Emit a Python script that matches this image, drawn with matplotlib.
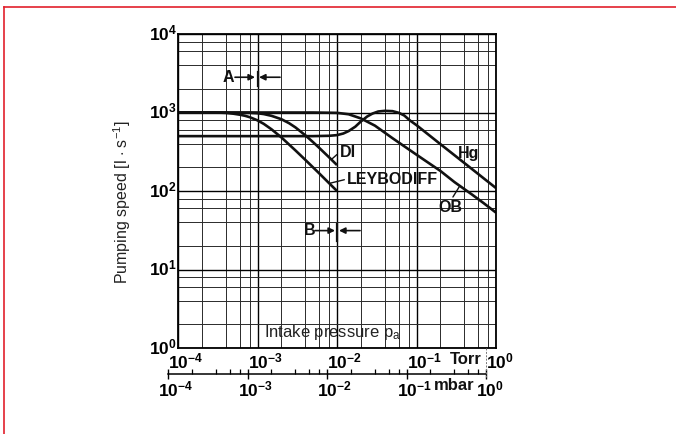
import matplotlib
matplotlib.use('Agg')
import matplotlib.pyplot as plt
from matplotlib.ticker import LogLocator, NullFormatter
from matplotlib.transforms import ScaledTranslation, blended_transform_factory
from matplotlib.lines import Line2D

plt.rcParams['font.family'] = ['Liberation Sans', 'DejaVu Sans']
plt.rcParams['mathtext.fontset'] = 'custom'
plt.rcParams['mathtext.rm'] = 'Liberation Sans'
plt.rcParams['mathtext.it'] = 'Liberation Sans:italic'
plt.rcParams['mathtext.bf'] = 'Liberation Sans:bold'
plt.rcParams['mathtext.sf'] = 'Liberation Sans'

# ---------------- data (Torr, l/s) ----------------
leybodiff_p = [1e-4, 3e-4, 4e-4, 5e-4, 6e-4, 7e-4, 8e-4, 1e-3, 1.2e-3, 1.5e-3,
               2e-3, 3e-3, 4e-3, 6e-3, 8e-3, 1e-2]
leybodiff_s = [1000, 1000, 990, 965, 937, 907, 871, 794, 716, 611,
               481, 329, 249, 167, 125, 100]

di_p = [1e-4, 8e-4, 1e-3, 1.2e-3, 1.5e-3, 2e-3, 2.5e-3, 3e-3, 4e-3, 5e-3,
        6e-3, 8e-3, 1e-2]
di_s = [1000, 990, 978, 955, 907, 821, 730, 646, 512, 419,
        353, 267, 214]

ob_p = [1e-4, 5e-3, 1e-2, 1.4e-2, 2e-2, 3e-2, 5e-2, 0.1, 0.2, 0.3, 0.5, 0.7, 1.0]
ob_s = [1000, 1000, 990, 950, 840, 680, 470, 290, 180, 130, 90, 70, 53]

hg_p = [1e-4, 5e-3, 8e-3, 1e-2, 1.2e-2, 1.4e-2, 1.7e-2, 2e-2, 2.4e-2, 2.8e-2,
        3.3e-2, 4e-2, 5e-2, 6e-2, 7e-2, 8.3e-2, 0.1, 0.2, 0.3, 0.5, 0.7, 1.0]
hg_s = [500, 500, 505, 515, 540, 580, 660, 770, 890, 970,
        1030, 1050, 1040, 990, 917, 790, 690, 395, 286, 190, 145, 109]

torr_ticks = [1e-4, 1e-3, 1e-2, 1e-1, 1e0]
torr_ticklabels = [r'$\mathbf{10^{-4}}$', r'$\mathbf{10^{-3}}$', r'$\mathbf{10^{-2}}$',
                   r'$\mathbf{10^{-1}}$', r'$\mathbf{10^{0}}$']
mbar_ticks = [1e-4, 1e-3, 1e-2, 1e-1, 1e0]
mbar_ticklabels = [r'$\mathbf{10^{-4}}$', r'$\mathbf{10^{-3}}$', r'$\mathbf{10^{-2}}$',
                   r'$\mathbf{10^{-1}}$', r'$\mathbf{10^{0}}$']
speed_ticks = [1e0, 1e1, 1e2, 1e3, 1e4]
speed_ticklabels = [r'$\mathbf{10^{0}}$', r'$\mathbf{10^{1}}$', r'$\mathbf{10^{2}}$',
                    r'$\mathbf{10^{3}}$', r'$\mathbf{10^{4}}$']

# ---------------- figure ----------------
W, H = 676, 434
fig = plt.figure(figsize=(W / 100, H / 100), dpi=100)


def frac(x0, y0, x1, y1):
    return [x0 / W, 1 - y1 / H, (x1 - x0) / W, (y1 - y0) / H]


TICK_FS = 12.5
ax = fig.add_axes(frac(178, 34, 496, 348))
ax.set_xscale('log')
ax.set_yscale('log')
ax.set_xlim(1e-4, 1)
ax.set_ylim(1, 1e4)
for axis in (ax.xaxis, ax.yaxis):
    axis.set_minor_locator(LogLocator(base=10, subs=(2, 4, 6, 8)))
    axis.set_minor_formatter(NullFormatter())
ax.grid(True, which='major', color='black', lw=1.0)
ax.grid(True, which='minor', color='#2a2a2a', lw=0.7)
ax.set_axisbelow(True)
ax.tick_params(which='both', length=0)
for s in ax.spines.values():
    s.set_linewidth(1.3)
    s.set_color('black')

ax.set_xticks(torr_ticks, torr_ticklabels, fontsize=TICK_FS)
ax.set_yticks(speed_ticks, speed_ticklabels, fontsize=TICK_FS)
ax.tick_params(axis='x', pad=2.3)
ax.tick_params(axis='y', pad=1)
shift = ScaledTranslation(-9.6 / 100, 0, fig.dpi_scale_trans)
for lab in ax.get_xticklabels():
    lab.set_horizontalalignment('left')
    lab.set_transform(lab.get_transform() + shift)
up = ScaledTranslation(0, 2.5 / 100, fig.dpi_scale_trans)
for lab in ax.get_yticklabels():
    lab.set_transform(lab.get_transform() + up)

ax.text(-0.175, 0.465, r'Pumping speed [l $\cdot$ s$^{-1}$]', transform=ax.transAxes,
        rotation=90, ha='center', va='center', fontsize=11.5, color='#222222')

# curves
kw = dict(color='#111111', lw=1.9, solid_capstyle='butt', solid_joinstyle='round')
ax.plot(leybodiff_p, leybodiff_s, **kw)
ax.plot(di_p, di_s, **kw)
ax.plot(ob_p, ob_s, **kw)
ax.plot(hg_p, hg_s, **kw)

bold = dict(fontsize=11.5, fontweight='bold', color='#111111')
lead = dict(arrowstyle='-', lw=1.0, color='#111111', shrinkA=0, shrinkB=0)
ax.annotate('DI', xy=(8.5e-3, 252), xytext=(1.08e-2, 313), ha='left', va='center',
            arrowprops=dict(relpos=(0, 0.5), **lead), **bold)
ax.annotate('LEYBODIFF', xy=(8e-3, 125), xytext=(1.34e-2, 142), ha='left', va='center',
            arrowprops=dict(relpos=(0, 0.5), **lead), **bold)
ax.annotate('OB', xy=(0.35, 116), xytext=(0.264, 62), ha='center', va='center',
            arrowprops=dict(relpos=(0.55, 1.0), **lead), **bold)
ax.text(0.457, 303, 'Hg', ha='center', va='center', **bold)

# A / B markers
arr = dict(arrowstyle='-|>', lw=1.2, color='#111111', shrinkA=0, shrinkB=0, mutation_scale=9)
ax.text(4.25e-4, 2813, 'A', ha='center', va='center', **bold)
ax.annotate('', xy=(9.3e-4, 2813), xytext=(5.21e-4, 2813), arrowprops=arr)
ax.annotate('', xy=(1.045e-3, 2813), xytext=(1.92e-3, 2813), arrowprops=arr)
ax.plot([1e-3, 1e-3], [2180, 3260], color='#111111', lw=1.6)
ax.text(4.57e-3, 31.3, 'B', ha='center', va='center', **bold)
ax.annotate('', xy=(9.44e-3, 31.3), xytext=(5.28e-3, 31.3), arrowprops=arr)
ax.annotate('', xy=(1.06e-2, 31.3), xytext=(1.95e-2, 31.3), arrowprops=arr)
ax.plot([1e-2, 1e-2], [23.2, 37.9], color='#111111', lw=1.6)

ax.text(0.487, 0.048, r'Intake pressure p$_\mathregular{a}$', transform=ax.transAxes,
        ha='center', va='center', fontsize=12.0, color='#222222',
        family=['Liberation Sans Narrow', 'Liberation Sans'])

btr = blended_transform_factory(ax.transData, ax.transAxes)
ax.text(0.413, -0.014, 'Torr', transform=btr, ha='center', va='top', fontsize=TICK_FS - 0.5,
        fontweight='bold', color='#111111')

# mbar scale
ax2 = fig.add_axes(frac(168, 373, 486, 374))
ax2.set_xscale('log')
ax2.set_xlim(1e-4, 1)
ax2.set_yticks([])
ax2.patch.set_alpha(0)
for k in ('top', 'left', 'right'):
    ax2.spines[k].set_visible(False)
ax2.spines['bottom'].set_linewidth(1.1)
ax2.xaxis.set_minor_locator(LogLocator(base=10, subs=(2, 4, 6, 8)))
ax2.xaxis.set_minor_formatter(NullFormatter())
ax2.set_xticks(mbar_ticks, mbar_ticklabels, fontsize=TICK_FS)
ax2.tick_params(axis='x', which='major', direction='inout', length=6.5, width=1.0, pad=0.5)
ax2.tick_params(axis='x', which='minor', direction='in', length=3.6, width=0.9)
for lab in ax2.get_xticklabels():
    lab.set_horizontalalignment('left')
    lab.set_transform(lab.get_transform() + shift)
fig.text(454 / W, 1 - 386 / H, 'mbar', ha='center', va='center', fontsize=TICK_FS - 0.5,
         fontweight='bold', color='#111111')

# dashed link between 1 mbar and the Torr scale
fig.add_artist(Line2D([486 / W, 486 / W], [1 - 348 / H, 1 - 377 / H], ls=(0, (2, 1.5)),
                      color='#777777', lw=0.7))

# red frame (top and left)
red = '#e2202c'
fig.add_artist(Line2D([3.5 / W, 1.0], [1 - 7 / H, 1 - 7 / H], color=red, lw=1.2))
fig.add_artist(Line2D([3.5 / W, 3.5 / W], [1 - 7 / H, 0.0], color=red, lw=1.2))

fig.savefig('out.png', dpi=100)
